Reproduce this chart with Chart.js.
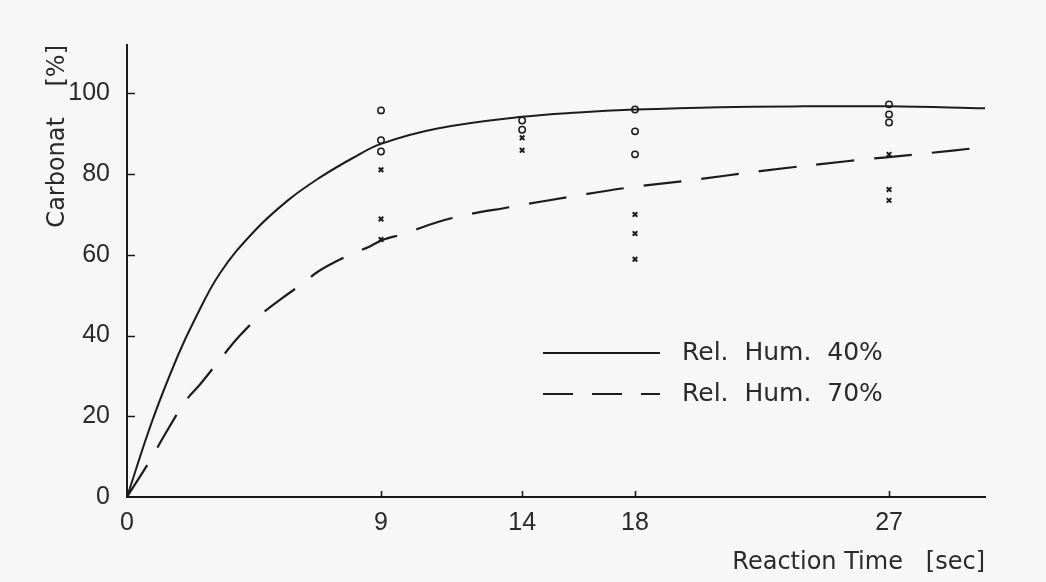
<!DOCTYPE html>
<html>
<head>
<meta charset="utf-8">
<script src="https://cdn.jsdelivr.net/npm/chart.js@4/dist/chart.umd.min.js"></script>
<style>
  html, body { margin: 0; padding: 0; background: #f7f7f7; }
  canvas { display: block; }
</style>
</head>
<body>
<canvas id="c" width="1046" height="582"></canvas>
<script>
// ---- data ----
const xTickValues = [0, 9, 14, 18, 27];
const yTickStep = 20;

const hum40Label = 'Rel.  Hum.  40%';
const hum40T = [0, 0.9, 1.8, 2.4, 3.3, 4.5, 5.7, 6.8, 8.0, 9.0, 11.0, 14.0, 16.0, 18.0, 21.0, 24.0, 27.0, 30.4];
const hum40V = [0, 19, 35, 44, 55.5, 65.8, 73.5, 79, 84, 87.5, 91.3, 94.2, 95.3, 96, 96.6, 96.8, 96.8, 96.3];

const hum70Label = 'Rel.  Hum.  70%';
const hum70T = [0, 0.9, 1.3, 2.1, 2.6, 3.4, 4.0, 4.8, 5.5, 6.25, 6.8, 7.8, 8.6, 9.1, 9.7, 11.45, 13.7, 15.8, 17.7, 20.0, 22.5, 25.5, 28.1, 30.4];
const hum70V = [0, 10, 15, 24, 28, 35, 40, 45.5, 49.3, 53, 56, 59.7, 62.1, 63.8, 65, 69, 72, 74.5, 76.6, 78.5, 80.8, 83.2, 85, 86.7];

const circleT = [9, 9, 9, 14, 14, 18, 18, 18, 27, 27, 27];
const circleV = [95.8, 88.4, 85.6, 93.3, 91, 96, 90.6, 84.9, 97.3, 94.8, 92.8];

const crossT = [9, 9, 9, 14, 14, 18, 18, 18, 27, 27, 27];
const crossV = [81.1, 68.9, 63.8, 89, 85.9, 70, 65.3, 58.9, 84.9, 76.2, 73.5];

// ---- build ----
const ink = '#1c1c1c';
const zip = (a, b) => a.map((v, i) => ({ x: v, y: b[i] }));

const inwardTicks = {
  id: 'inwardTicks',
  afterDraw(chart) {
    const ctx = chart.ctx, xs = chart.scales.x, ys = chart.scales.y;
    const a = chart.chartArea;
    ctx.save();
    ctx.strokeStyle = ink;
    ctx.lineWidth = 1.6;
    ctx.beginPath();
    xs.ticks.forEach(t => {
      if (t.value === 0) return;
      const px = Math.round(xs.getPixelForValue(t.value)) + 0.5;
      ctx.moveTo(px, a.bottom);
      ctx.lineTo(px, a.bottom - 6);
    });
    ys.ticks.forEach(t => {
      if (t.value === 0) return;
      const py = Math.round(ys.getPixelForValue(t.value)) + 0.5;
      ctx.moveTo(a.left, py);
      ctx.lineTo(a.left + 8, py);
    });
    ctx.stroke();
    ctx.restore();
  }
};

const innerLegend = {
  id: 'innerLegend',
  afterDraw(chart) {
    const ctx = chart.ctx;
    const items = chart.data.datasets.filter(d => d.showInLegend);
    const x0 = 543, x1 = 660, tx = 682;
    let y = 353;
    ctx.save();
    items.forEach(d => {
      ctx.strokeStyle = d.borderColor;
      ctx.lineWidth = d.borderWidth;
      ctx.setLineDash(d.borderDash && d.borderDash.length ? [30, 19] : []);
      ctx.beginPath();
      ctx.moveTo(x0, y);
      ctx.lineTo(x1, y);
      ctx.stroke();
      ctx.setLineDash([]);
      ctx.fillStyle = '#2a2a2a';
      ctx.font = '25px "DejaVu Sans"';
      ctx.textBaseline = 'middle';
      ctx.textAlign = 'left';
      ctx.fillText(d.label, tx, y);
      y += 41;
    });
    ctx.restore();
  }
};

new Chart(document.getElementById('c'), {
  type: 'scatter',
  data: {
    datasets: [
      {
        type: 'line', label: hum40Label, showInLegend: true,
        data: zip(hum40T, hum40V),
        borderColor: ink, borderWidth: 2, pointRadius: 0,
        tension: 0.4, fill: false
      },
      {
        type: 'line', label: hum70Label, showInLegend: true,
        data: zip(hum70T, hum70V),
        borderColor: ink, borderWidth: 2.2, borderDash: [38, 20], pointRadius: 0,
        tension: 0.4, fill: false
      },
      {
        label: 'circles', data: zip(circleT, circleV),
        pointStyle: 'circle', pointRadius: 3.2, borderColor: ink, borderWidth: 1.5,
        backgroundColor: 'rgba(0,0,0,0)'
      },
      {
        label: 'crosses', data: zip(crossT, crossV),
        pointStyle: 'crossRot', pointRadius: 3.2, borderColor: ink, borderWidth: 2
      }
    ]
  },
  options: {
    responsive: false,
    animation: false,
    devicePixelRatio: 1,
    layout: { padding: { top: 45, right: 61, left: 0, bottom: 0 } },
    plugins: { legend: { display: false }, tooltip: { enabled: false } },
    scales: {
      x: {
        type: 'linear', min: 0, max: 30.4,
        afterBuildTicks(s) { s.ticks = xTickValues.map(v => ({ value: v })); },
        afterFit(s) { s.height = 85; },
        grid: { display: true, drawOnChartArea: false, drawTicks: false },
        border: { display: true, color: ink, width: 2 },
        ticks: {
          padding: 11, color: '#2a2a2a', autoSkip: false, maxRotation: 0,
          font: { family: '"Liberation Sans"', size: 25 }
        },
        title: {
          display: true, text: 'Reaction Time   [sec]', align: 'end',
          color: '#2a2a2a', font: { family: '"DejaVu Sans"', size: 24 },
          padding: { top: 0, bottom: 5 }
        }
      },
      y: {
        type: 'linear', min: 0, max: 112,
        afterFit(s) { s.width = 127; },
        grid: { display: true, drawOnChartArea: false, drawTicks: false },
        border: { display: true, color: ink, width: 2 },
        ticks: {
          stepSize: yTickStep, includeBounds: false, padding: 17, color: '#2a2a2a',
          font: { family: '"Liberation Sans"', size: 25 }
        },
        title: {
          display: true, text: 'Carbonat    [%]', align: 'end',
          color: '#2a2a2a', font: { family: '"DejaVu Sans"', size: 24 },
          padding: { top: 43, bottom: 0 }
        }
      }
    }
  },
  plugins: [inwardTicks, innerLegend]
});
</script>
</body>
</html>
